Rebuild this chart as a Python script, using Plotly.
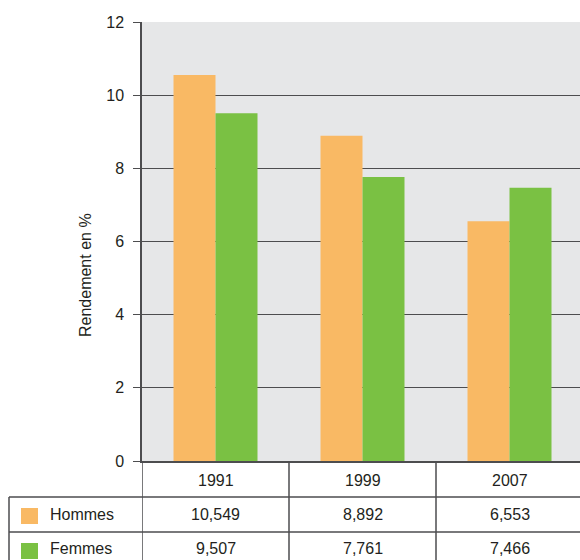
import plotly.graph_objects as go

# Data
years = ["1991", "1999", "2007"]
hommes = [10.549, 8.892, 6.553]
femmes = [9.507, 7.761, 7.466]
series_names = ["Hommes", "Femmes"]
y_ticks = [0, 2, 4, 6, 8, 10, 12]

# Styles
W, H = 580, 560
ORANGE = "#F9B964"
GREEN = "#7AC143"
BG = "#E6E7E8"
LINE = "#4D4D4F"
TXT = "#231F20"
FONT = "Liberation Sans, Arial, sans-serif"
FS = 16

# Plot box in pixels
PX_L, PX_T, PX_B = 142, 22, 461
COL_W = 147  # width of one category column in pixels


def py(p):
    """pixel row -> paper y"""
    return 1 - p / H


def fr(v):
    return f"{v:.3f}".replace(".", ",")


fig = go.Figure()
fig.add_bar(x=years, y=hommes, name=series_names[0], marker_color=ORANGE,
            marker_line_width=0)
fig.add_bar(x=years, y=femmes, name=series_names[1], marker_color=GREEN,
            marker_line_width=0)

x_end = -0.5 + (W - PX_L) / COL_W

fig.update_layout(
    width=W, height=H,
    margin=dict(l=0, r=0, t=0, b=0, pad=0),
    paper_bgcolor="white",
    plot_bgcolor=BG,
    barmode="group",
    bargap=1 - 84 / COL_W,
    bargroupgap=0,
    showlegend=False,
    font=dict(family=FONT, size=FS, color=TXT),
    xaxis=dict(
        domain=[PX_L / W, 1],
        type="category",
        range=[-0.5, x_end],
        showticklabels=False,
        ticks="",
        showgrid=False,
        zeroline=False,
        automargin=False,
        showline=True, linecolor=LINE, linewidth=1.5,
    ),
    yaxis=dict(
        domain=[py(PX_B), py(PX_T)],
        range=[0, 12],
        tickvals=y_ticks,
        ticks="outside", ticklen=7, tickcolor=LINE, tickwidth=1.2,
        showgrid=True, gridcolor=LINE, gridwidth=1.2,
        zeroline=False,
        automargin=False,
        showline=True, linecolor=LINE, linewidth=1.5,
        tickfont=dict(family=FONT, size=FS, color=TXT),
        ticklabelstandoff=6,
    ),
)

# Axis title
fig.add_annotation(text="Rendement en %", xref="paper", yref="paper",
                   x=85 / W, y=py(275), xanchor="center", yanchor="middle",
                   textangle=-90, showarrow=False,
                   font=dict(size=FS, color=TXT))

# Data table below the chart
ROW_HDR = (461, 497)
ROW_H = (497, 532)
ROW_F = (532, 564)
TABLE_L = 9
shapes = []
line = dict(color=LINE, width=1.5)
# horizontal rules
for yy in (ROW_H[0], ROW_F[0]):
    shapes.append(dict(type="line", xref="paper", yref="paper",
                       x0=TABLE_L / W, x1=1, y0=py(yy), y1=py(yy), line=line))
# left border of the label column
shapes.append(dict(type="line", xref="paper", yref="paper",
                   x0=TABLE_L / W, x1=TABLE_L / W, y0=py(ROW_H[0]), y1=0,
                   line=line))
# column separators at category boundaries
for b in (-0.5, 0.5, 1.5):
    shapes.append(dict(type="line", xref="x", yref="paper", x0=b, x1=b,
                       y0=py(ROW_HDR[0]), y1=0, line=line))
# legend swatches
for (r0, r1), col in ((ROW_H, ORANGE), (ROW_F, GREEN)):
    top = r0 + 11
    shapes.append(dict(type="rect", xref="paper", yref="paper",
                       x0=21 / W, x1=38 / W, y0=py(top + 16), y1=py(top),
                       fillcolor=col, line_width=0))
fig.update_layout(shapes=shapes)

# header: years
for i, yr in enumerate(years):
    fig.add_annotation(text=yr, xref="x", yref="paper", x=i,
                       y=py(sum(ROW_HDR) / 2 + 1), xanchor="center",
                       yanchor="middle", showarrow=False,
                       font=dict(size=FS, color=TXT))
# series labels and values
for name, vals, (r0, r1) in ((series_names[0], hommes, ROW_H),
                             (series_names[1], femmes, ROW_F)):
    yc = py((r0 + r1) / 2)
    fig.add_annotation(text=name, xref="paper", yref="paper", x=48 / W,
                       y=yc, xanchor="left", yanchor="middle",
                       showarrow=False, font=dict(size=FS, color=TXT))
    for i, v in enumerate(vals):
        fig.add_annotation(text=fr(v), xref="x", yref="paper", x=i, y=yc,
                           xanchor="center", yanchor="middle",
                           showarrow=False, font=dict(size=FS, color=TXT))

fig.write_html("out.html")
